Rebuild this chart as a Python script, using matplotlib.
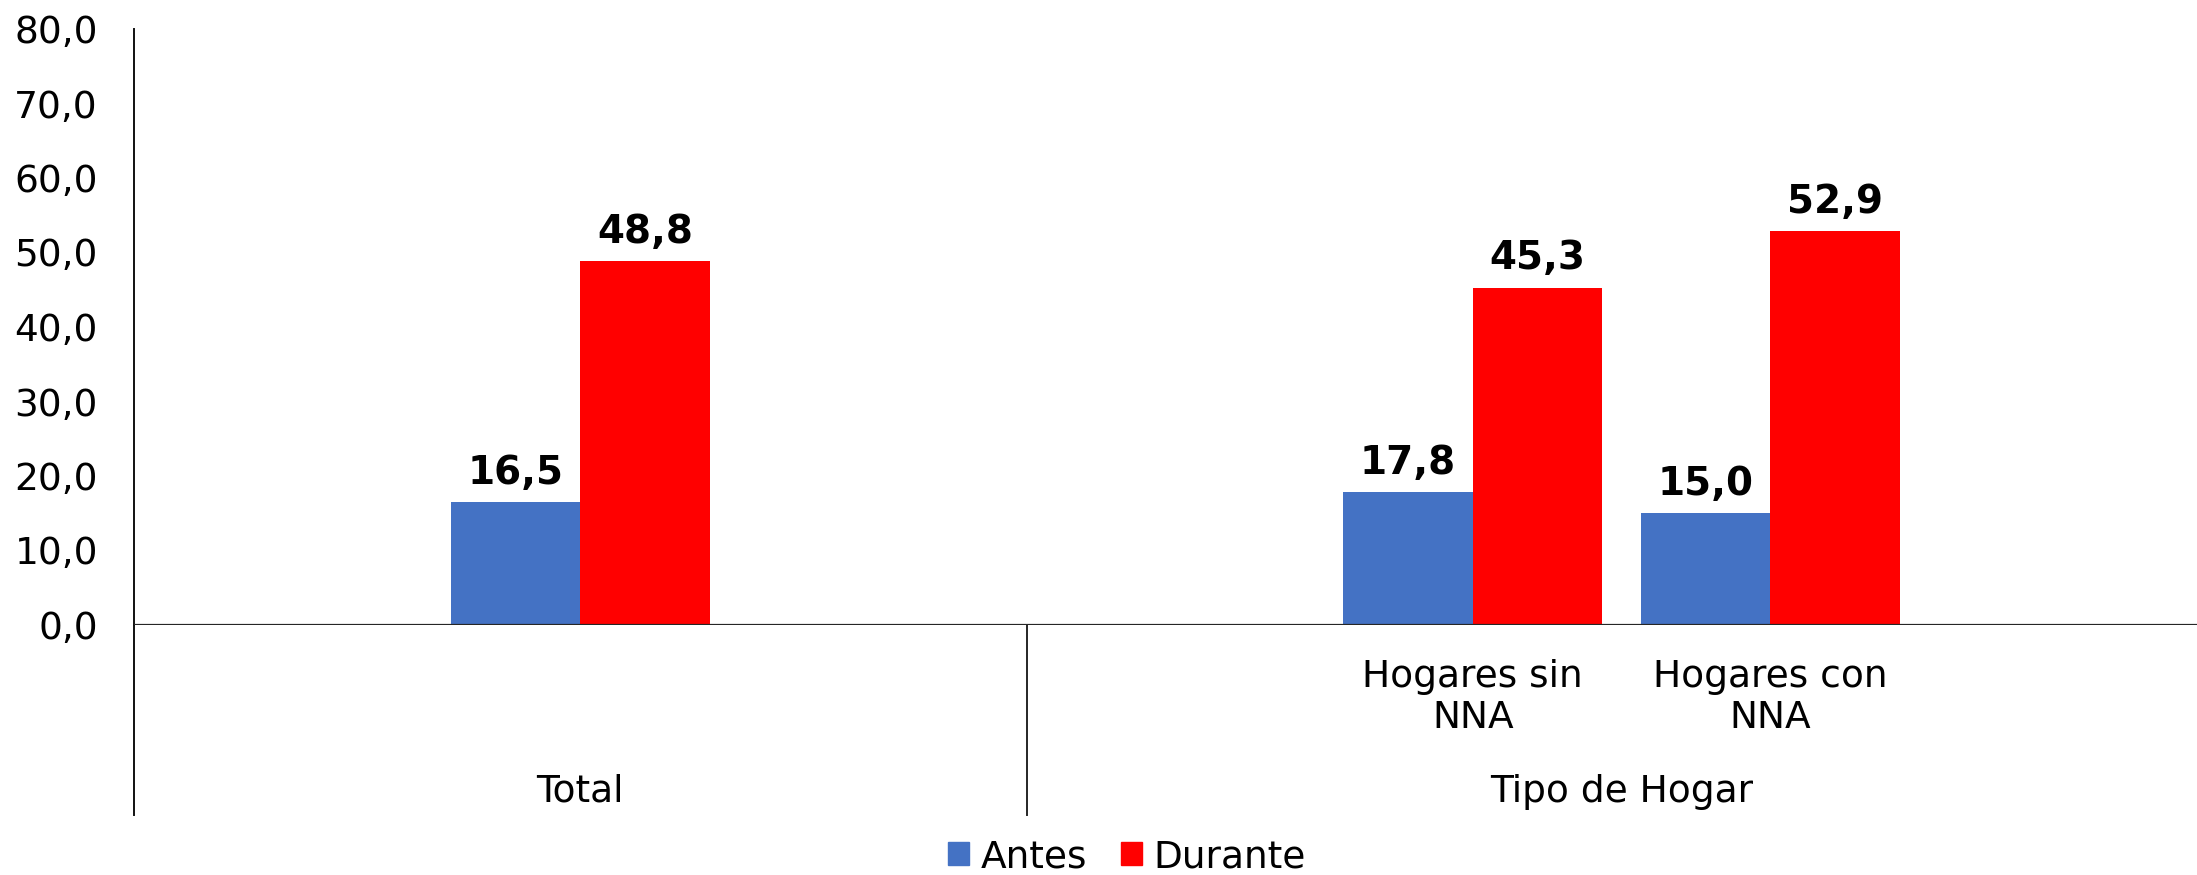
import matplotlib
matplotlib.use("Agg")
import matplotlib.pyplot as plt
from matplotlib.patches import Patch
import numpy as np

# Data
slots = ["", "Total", "", "", "Hogares sin\nNNA", "Hogares con\nNNA", ""]
bar_slots = [1, 4, 5]
antes = [16.5, 17.8, 15.0]
durante = [48.8, 45.3, 52.9]
groups = ["Total", "Tipo de Hogar"]
group_spans = [(-0.5, 2.5), (2.5, 6.5)]
series_names = ["Antes", "Durante"]
yticks = [0, 10, 20, 30, 40, 50, 60, 70, 80]

W, H = 2197, 875
dpi = 100
fig = plt.figure(figsize=(W / dpi, H / dpi), dpi=dpi)
plt.rcParams['font.family'] = ['Verdana', 'DejaVu Sans']

x0, x1 = 134, 2197
y0, y1 = 625, 29
cat_w = 297.5
ax = fig.add_axes([x0 / W, (H - y0) / H, (x1 - x0) / W, (y0 - y1) / H])
xmax = (x1 - x0) / cat_w - 0.5
ax.set_xlim(-0.5, xmax)
ax.set_ylim(0, 80)

blue = "#4472C4"
red = "#FF0000"
bw = 129.5 / cat_w
xs = np.array(bar_slots, dtype=float)
ax.bar(xs - bw / 2, antes, width=bw, color=blue, zorder=2)
ax.bar(xs + bw / 2, durante, width=bw, color=red, zorder=2)

fs = 27
for xi, v in zip(xs - bw / 2, antes):
    ax.annotate(f"{v:.1f}".replace(".", ","), (xi, v), xytext=(0, 13), textcoords="offset points",
                ha="center", va="baseline", fontsize=fs + 1, fontweight="bold")
for xi, v in zip(xs + bw / 2, durante):
    ax.annotate(f"{v:.1f}".replace(".", ","), (xi, v), xytext=(0, 13), textcoords="offset points",
                ha="center", va="baseline", fontsize=fs + 1, fontweight="bold")

ax.set_yticks(yticks)
ax.set_yticklabels([f"{t:.1f}".replace(".", ",") for t in yticks], fontsize=fs)
ax.tick_params(axis="y", length=0, pad=26)
ax.set_xticks([])
for s in ["top", "right", "bottom"]:
    ax.spines[s].set_visible(False)
ax.spines["left"].set_color("#111111")
ax.spines["left"].set_linewidth(1.4)

line_c = "#262626"
ax.axhline(0, color=line_c, lw=1.6, zorder=3)

trans = ax.get_xaxis_transform()
ybot = -(815 - 625) / (y0 - y1)
for xs_ in [-0.5, 2.5]:
    ax.plot([xs_, xs_], [0, ybot], transform=trans, color="#111111" if xs_ < 0 else line_c,
            lw=1.4, clip_on=False)

# sub-category labels
for i, lab in enumerate(slots):
    if lab and "\n" in lab:
        ax.text(i, -(697.5 - 625) / (y0 - y1), lab, transform=trans, ha="center", va="center",
                fontsize=fs, linespacing=1.15)
for (a, b), g in zip(group_spans, groups):
    ax.text((a + b) / 2, -(792 - 625) / (y0 - y1), g, transform=trans, ha="center", va="center",
            fontsize=fs)

handles = [Patch(color=blue), Patch(color=red)]
fig.legend(handles, series_names, loc="center", bbox_to_anchor=(1127 / W, 1 - 857 / H),
           ncol=2, frameon=False, fontsize=fs, handlelength=0.56, handleheight=0.56,
           handletextpad=0.3, columnspacing=0.9, borderpad=0, borderaxespad=0)

fig.savefig("out.png", dpi=dpi)
